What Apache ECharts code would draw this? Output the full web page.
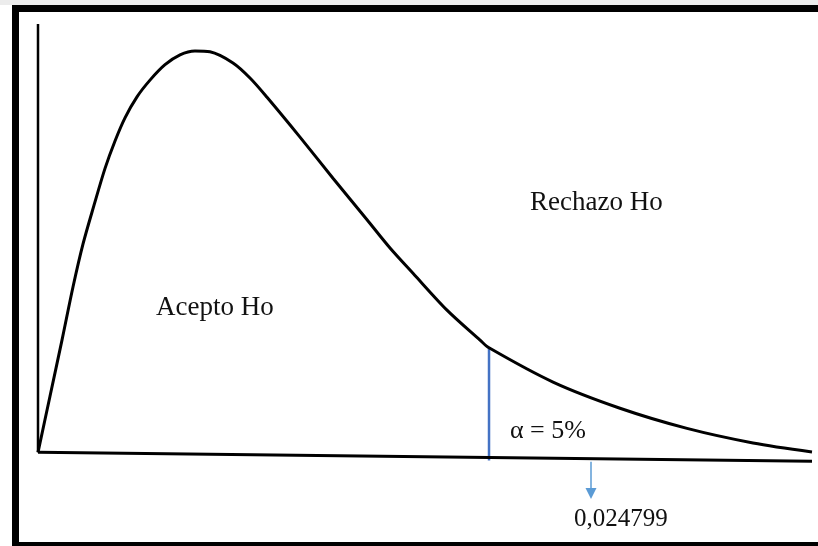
<!DOCTYPE html>
<html>
<head>
<meta charset="utf-8">
<script src="https://cdn.jsdelivr.net/npm/echarts@6/dist/echarts.min.js"></script>
<style>
  html, body { margin: 0; padding: 0; background: #fff; }
  #chart { width: 818px; height: 546px; }
</style>
</head>
<body>
<div id="chart"></div>
<script>
// density curve (x and y in arbitrary 0..100 units)
const curveX = [0, 1.55, 3.10, 4.52, 5.81, 7.24, 8.66, 9.95, 11.24, 12.79, 14.47, 16.41, 18.35, 20.28, 22.22, 25.19, 27.39, 29.59, 33.85, 38.11, 42.51, 45.48, 48.45, 52.84, 57.11, 58.27, 66.54, 75.19, 83.85, 92.38, 100]
const curveY = [0, 13.1, 26.2, 38.6, 48.6, 57.7, 66.3, 72.7, 78.1, 83.0, 86.9, 90.5, 92.8, 93.7, 93.5, 90.9, 87.4, 82.9, 73.6, 64.0, 54.3, 47.7, 41.8, 33.2, 26.2, 24.4, 16.4, 10.3, 5.6, 2.2, 0.1]

// hand-drawn axes (the horizontal one droops a little to the right)
const baseX = [0, 100]
const baseY = [0, -2.1]
const axisTop = 100

// critical value: blue cut line and the arrow to its label
const critX = 58.27
const critY = [24.4, -1.9]
const arrowX = 71.45
const arrowY = [-2.2, -9.6]

const labels = { accept: 'Acepto Ho', reject: 'Rechazo Ho', alpha: 'α = 5%', crit: '0,024799' }

const FONT = '"Liberation Serif", "DejaVu Serif", serif'
const chart = echarts.init(document.getElementById('chart'), null, { renderer: 'canvas' })

const pairs = (xs, ys) => xs.map((x, i) => [x, ys[i]])
const txt = (text, x, y, size) => ({
  type: 'text', left: x, top: y,
  style: { text, fill: '#111', font: size + 'px ' + FONT }
})

chart.setOption({
  animation: false,
  grid: { left: 38, right: 6, top: 24, bottom: 8 },
  xAxis: { type: 'value', min: 0, max: 100, show: false },
  yAxis: { type: 'value', min: -20, max: 100, show: false },
  graphic: [
    { type: 'rect', left: 0, top: 0, shape: { width: 818, height: 5 }, style: { fill: '#ececec' } },
    { type: 'rect', left: 12, top: 5, shape: { width: 820, height: 537 },
      style: { fill: 'none', stroke: '#000', lineWidth: 7 } },
    txt(labels.accept, 156, 294, 27),
    txt(labels.reject, 530, 189, 27),
    txt(labels.alpha, 510, 418, 26),
    txt(labels.crit, 574, 507, 25),
  ],
  series: [
    {
      name: 'eje y', type: 'line', data: [[0, 0], [0, axisTop]], symbol: 'none',
      lineStyle: { color: '#000', width: 2.5 }, clip: false, z: 3,
    },
    {
      name: 'eje x', type: 'line', data: pairs(baseX, baseY), symbol: 'none',
      lineStyle: { color: '#000', width: 3 }, clip: false, z: 3,
      markLine: {
        silent: true, symbol: ['none', 'triangle'], symbolSize: [11, 11],
        label: { show: false },
        lineStyle: { color: '#5B9BD5', width: 1.5, type: 'solid' },
        data: [[{ coord: [arrowX, arrowY[0]] }, { coord: [arrowX, arrowY[1]] }]],
      },
    },
    {
      name: 'corte', type: 'line', data: [[critX, critY[0]], [critX, critY[1]]], symbol: 'none',
      lineStyle: { color: '#4472C4', width: 2.5 }, clip: false, z: 2,
    },
    {
      name: 'densidad', type: 'line', data: pairs(curveX, curveY),
      smooth: 0.3,
      symbol: 'none', lineStyle: { color: '#000', width: 3 }, clip: false, z: 4,
    },
  ],
})
</script>
</body>
</html>
